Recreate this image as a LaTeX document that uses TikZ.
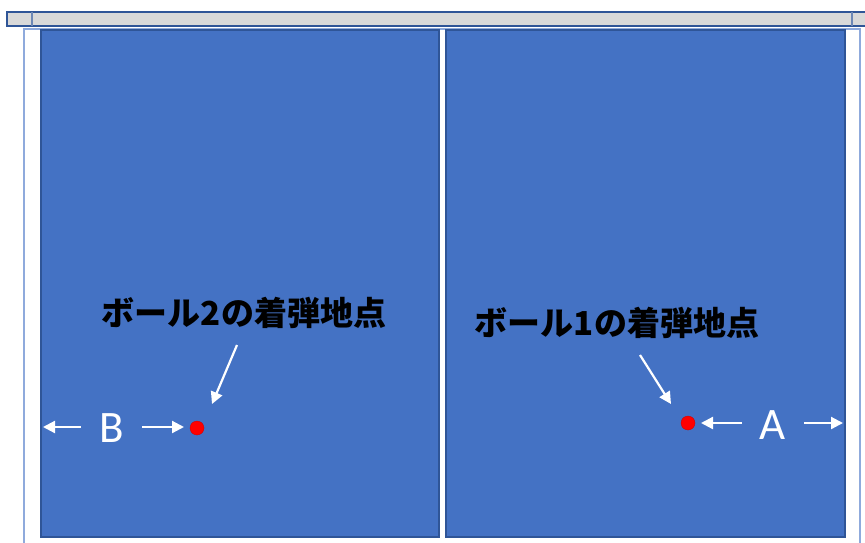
\documentclass[tikz,border=0pt]{standalone}
\usepackage{fontspec}
\setmainfont{Carlito}
\newfontfamily\jp{Noto Sans CJK JP}
\usetikzlibrary{arrows.meta}
\definecolor{court}{HTML}{4472C4}
\definecolor{courtedge}{HTML}{2F5597}
\definecolor{barfill}{HTML}{D9D9D9}
\definecolor{frameedge}{HTML}{8FAADC}
\begin{document}
\begin{tikzpicture}[x=1pt,y=-1pt,
  courtbox/.style={draw=courtedge, line width=1.2pt, fill=court},
  dot/.style={circle, fill=red, draw=red!80!black, line width=0.3pt, minimum size=14pt, inner sep=0pt},
  jplabel/.style={font=\jp\bfseries\fontsize{33}{33}\selectfont, text=black, inner sep=0pt},
  letter/.style={font=\fontsize{45}{45}\selectfont, text=white, inner sep=0pt},
  warrow/.style={draw=white, line width=2.2pt, -{Triangle[length=12pt,width=12pt]}}]
\useasboundingbox (0,0) rectangle (865,542);
% top bar
\draw[draw=courtedge, line width=1.5pt, fill=barfill] (7,12) rectangle (875,26);
\draw[courtedge!70, line width=1.5pt] (32,12) -- (32,26);
\draw[courtedge!70, line width=1.5pt] (852,12) -- (852,26);
% outer white frame
\draw[draw=frameedge, line width=1.2pt, fill=white] (24,29) rectangle (860,560);
% courts
\draw[courtbox] (41,30) rectangle (439,537);
\draw[courtbox] (446,30) rectangle (845,537);
% landing points
\node[dot] (b2) at (197,428) {};
\node[dot] (b1) at (688,423) {};
% labels
\node[jplabel] (l2) at (244,313) {ボール2の着弾地点};
\node[jplabel] (l1) at (617,323) {ボール1の着弾地点};
\coordinate (s2) at (237,345);
\coordinate (t2) at (212,404);
\coordinate (s1) at (640,355);
\coordinate (t1) at (671,404);
\draw[warrow] (s2) -- (t2);
\draw[warrow] (s1) -- (t1);
% distances
\node[letter] (B) at (112,428) {B};
\node[letter] (A) at (773,425) {A};
\coordinate (Bl0) at (81,427);
\coordinate (Bl1) at (43,427);
\coordinate (Br0) at (142,427);
\coordinate (Br1) at (184,427);
\coordinate (Al0) at (742,423);
\coordinate (Al1) at (701,423);
\coordinate (Ar0) at (804,423);
\coordinate (Ar1) at (843,423);
\draw[warrow] (Bl0) -- (Bl1);
\draw[warrow] (Br0) -- (Br1);
\draw[warrow] (Al0) -- (Al1);
\draw[warrow] (Ar0) -- (Ar1);
\end{tikzpicture}
\end{document}
